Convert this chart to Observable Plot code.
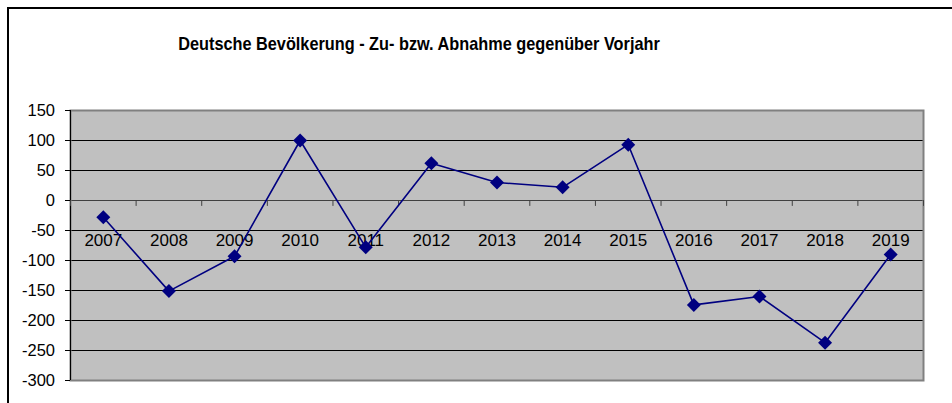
<!DOCTYPE html>
<html><head><meta charset="utf-8">
<script src="https://cdn.jsdelivr.net/npm/d3@7"></script>
<script src="https://cdn.jsdelivr.net/npm/@observablehq/plot@0.6"></script>
<style>
html,body{margin:0;padding:0;background:#fff;overflow:hidden;}
#wrap{position:relative;width:952px;height:403px;overflow:hidden;}
#box{position:absolute;left:7px;top:7px;width:1000px;height:500px;border-left:2px solid #000;border-top:2px solid #000;}
#title{position:absolute;left:0;width:838px;top:33px;line-height:20px;text-align:center;font:bold 18.5px "Liberation Sans",Arial,sans-serif;color:#000;white-space:nowrap;transform:scaleX(0.88);transform-origin:419px 0;}
#chart{position:absolute;left:0;top:0;}
</style></head>
<body>
<div id="wrap">
  <div id="box"></div>
  <div id="title">Deutsche Bevölkerung - Zu- bzw. Abnahme gegenüber Vorjahr</div>
  <div id="chart"></div>
</div>
<script>
const years = [2007, 2008, 2009, 2010, 2011, 2012, 2013, 2014, 2015, 2016, 2017, 2018, 2019];
const values = [-28, -151, -93, 100, -78, 62, 30, 22, 93, -174, -160, -237, -90];
const yTicks = [-300, -250, -200, -150, -100, -50, 0, 50, 100, 150];

const data = years.map((year, i) => ({year, value: values[i]}));
const boundaries = [years[0] - 0.5, ...years.map(y => y + 0.5)];
const yMin = yTicks[0], yMax = yTicks[yTicks.length - 1];

const tickShape = {draw(context, l) { context.moveTo(0, 0); context.lineTo(0, -l); }};

const chart = Plot.plot({
  width: 952, height: 403,
  marginLeft: 70, marginTop: 110, marginRight: 29, marginBottom: 23,
  style: {background: "transparent", fontFamily: "'Liberation Sans', Arial, sans-serif", fontSize: "17px", color: "#000", overflow: "visible"},
  x: {type: "linear", domain: [boundaries[0], boundaries[boundaries.length - 1]], axis: null, label: null},
  y: {domain: [yMin, yMax], axis: null, label: null},
  marks: [
    Plot.frame({fill: "#C0C0C0", stroke: null}),
    Plot.ruleY(yTicks.filter(d => d !== 0 && d > yMin && d < yMax), {stroke: "#000", strokeWidth: 1}),
    Plot.ruleY([0], {stroke: "#404040", strokeWidth: 1}),
    Plot.frame({stroke: "#808080", strokeWidth: 2}),
    Plot.ruleX([boundaries[0]], {stroke: "#000", strokeWidth: 1}),
    Plot.axisY({ticks: yTicks, tickSize: 5, tickPadding: 10.5, fontSize: 16.5, stroke: "#000", fill: "#000", label: null, tickFormat: d => String(d)}),
    Plot.vector(boundaries, {x: d => d, y: 0, length: 5, rotate: 180, anchor: "start", stroke: "#404040", strokeWidth: 1, shape: tickShape}),
    Plot.text(data, {x: "year", y: 0, text: d => String(d.year), dy: 40.5, fontSize: 17, fill: "#000"}),
    Plot.line(data, {x: "year", y: "value", stroke: "#000080", strokeWidth: 1.6}),
    Plot.dot(data, {x: "year", y: "value", symbol: "diamond2", r: 6.3, fill: "#000080", stroke: "none"})
  ]
});
document.getElementById("chart").appendChild(chart);
</script>
</body></html>
